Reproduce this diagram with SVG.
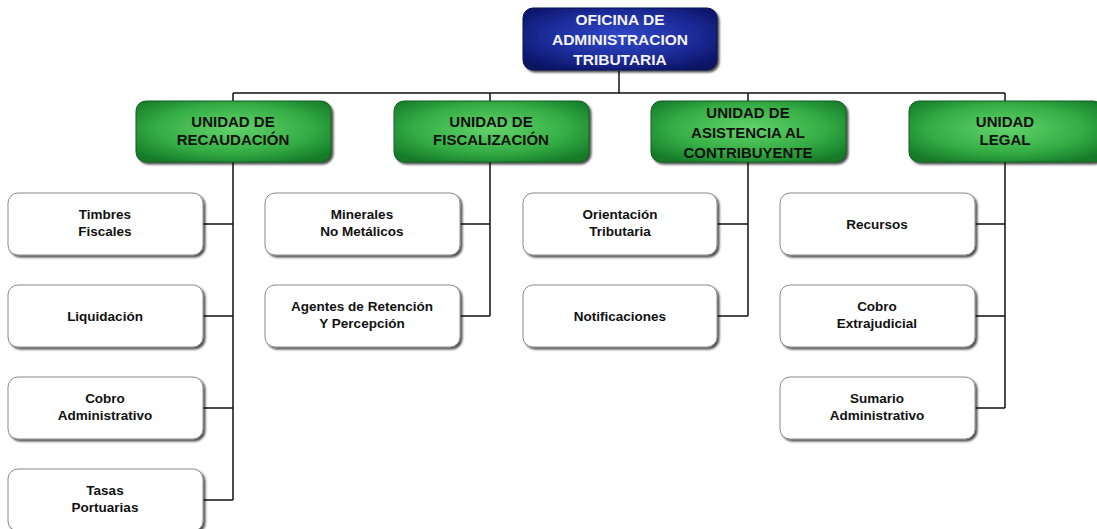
<svg xmlns="http://www.w3.org/2000/svg" width="1097" height="529" viewBox="0 0 1097 529">
<defs>
<radialGradient id="gBlue" cx="50%" cy="45%" r="65%">
<stop offset="0" stop-color="#3148c8"/>
<stop offset="0.6" stop-color="#1c2b98"/>
<stop offset="1" stop-color="#0a1262"/>
</radialGradient>
<radialGradient id="gGreen" cx="50%" cy="45%" r="65%">
<stop offset="0" stop-color="#62d46a"/>
<stop offset="0.6" stop-color="#35ad45"/>
<stop offset="1" stop-color="#157a28"/>
</radialGradient>
<filter id="sh" x="-10%" y="-10%" width="120%" height="130%">
<feDropShadow dx="2" dy="2" stdDeviation="1" flood-color="#000" flood-opacity="0.7"/>
</filter>
</defs>
<style>
.top{fill:url(#gBlue);stroke:#0a1050;stroke-width:1;filter:url(#sh)}
.unit{fill:url(#gGreen);stroke:#125f20;stroke-width:1;filter:url(#sh)}
.leaf{fill:#fff;stroke:#8a8a8a;stroke-width:1;filter:url(#sh)}
.tw{font-family:"Liberation Sans",Arial,sans-serif;font-weight:bold;font-size:15.5px;fill:#f2f2f2;text-anchor:middle}
.tg{font-family:"Liberation Sans",Arial,sans-serif;font-weight:bold;font-size:15px;fill:#111;text-anchor:middle}
.tl{font-family:"Liberation Sans",Arial,sans-serif;font-weight:bold;font-size:13.5px;fill:#111;text-anchor:middle}
.ln{fill:none;stroke:#111;stroke-width:1.5}
</style>
<rect width="1097" height="529" fill="#fff"/>
<g id="connectors">
<path class="ln" d="M619 71V93M233 93H1005M233 93V101M490 93V101M748 93V101M1005 93V101"/>
<path class="ln" d="M233 162V500M203 224H233M203 316H233M203 408H233M203 500H233"/>
<path class="ln" d="M490 162V316M460 224H490M460 316H490"/>
<path class="ln" d="M748 162V316M717 224H748M717 316H748"/>
<path class="ln" d="M1005 162V408M975 224H1005M975 316H1005M975 408H1005"/>
</g>
<g id="oficina">
<rect class="top" x="523" y="8" width="194" height="62" rx="10"/>
<text class="tw" x="620" y="25">OFICINA DE</text>
<text class="tw" x="620" y="45">ADMINISTRACION</text>
<text class="tw" x="620" y="65">TRIBUTARIA</text>
</g>
<g id="recaudacion">
<rect class="unit" x="136" y="101" width="195" height="61" rx="10"/>
<text class="tg" x="233" y="127">UNIDAD DE</text>
<text class="tg" x="233" y="145">RECAUDACIÓN</text>
</g>
<g id="fiscalizacion">
<rect class="unit" x="394" y="101" width="195" height="61" rx="10"/>
<text class="tg" x="491" y="127">UNIDAD DE</text>
<text class="tg" x="491" y="145">FISCALIZACIÓN</text>
</g>
<g id="asistencia">
<rect class="unit" x="651" y="101" width="195" height="61" rx="10"/>
<text class="tg" x="748" y="118">UNIDAD DE</text>
<text class="tg" x="748" y="138">ASISTENCIA AL</text>
<text class="tg" x="748" y="158">CONTRIBUYENTE</text>
</g>
<g id="legal">
<rect class="unit" x="909" y="101" width="194" height="61" rx="10"/>
<text class="tg" x="1005" y="127">UNIDAD</text>
<text class="tg" x="1005" y="145">LEGAL</text>
</g>
<g id="timbres">
<rect class="leaf" x="8" y="193" width="195" height="62" rx="10"/>
<text class="tl" x="105" y="219">Timbres</text>
<text class="tl" x="105" y="236">Fiscales</text>
</g>
<g id="liquidacion">
<rect class="leaf" x="8" y="285" width="195" height="62" rx="10"/>
<text class="tl" x="105" y="321">Liquidación</text>
</g>
<g id="cobro-admin">
<rect class="leaf" x="8" y="377" width="195" height="62" rx="10"/>
<text class="tl" x="105" y="403">Cobro</text>
<text class="tl" x="105" y="420">Administrativo</text>
</g>
<g id="tasas">
<rect class="leaf" x="8" y="469" width="195" height="62" rx="10"/>
<text class="tl" x="105" y="495">Tasas</text>
<text class="tl" x="105" y="512">Portuarias</text>
</g>
<g id="minerales">
<rect class="leaf" x="265" y="193" width="195" height="62" rx="10"/>
<text class="tl" x="362" y="219">Minerales</text>
<text class="tl" x="362" y="236">No Metálicos</text>
</g>
<g id="agentes">
<rect class="leaf" x="265" y="285" width="195" height="62" rx="10"/>
<text class="tl" x="362" y="311">Agentes de Retención</text>
<text class="tl" x="362" y="328">Y Percepción</text>
</g>
<g id="orientacion">
<rect class="leaf" x="523" y="193" width="194" height="62" rx="10"/>
<text class="tl" x="620" y="219">Orientación</text>
<text class="tl" x="620" y="236">Tributaria</text>
</g>
<g id="notificaciones">
<rect class="leaf" x="523" y="285" width="194" height="62" rx="10"/>
<text class="tl" x="620" y="321">Notificaciones</text>
</g>
<g id="recursos">
<rect class="leaf" x="780" y="193" width="195" height="62" rx="10"/>
<text class="tl" x="877" y="229">Recursos</text>
</g>
<g id="cobro-extra">
<rect class="leaf" x="780" y="285" width="195" height="62" rx="10"/>
<text class="tl" x="877" y="311">Cobro</text>
<text class="tl" x="877" y="328">Extrajudicial</text>
</g>
<g id="sumario">
<rect class="leaf" x="780" y="377" width="195" height="62" rx="10"/>
<text class="tl" x="877" y="403">Sumario</text>
<text class="tl" x="877" y="420">Administrativo</text>
</g>
</svg>
